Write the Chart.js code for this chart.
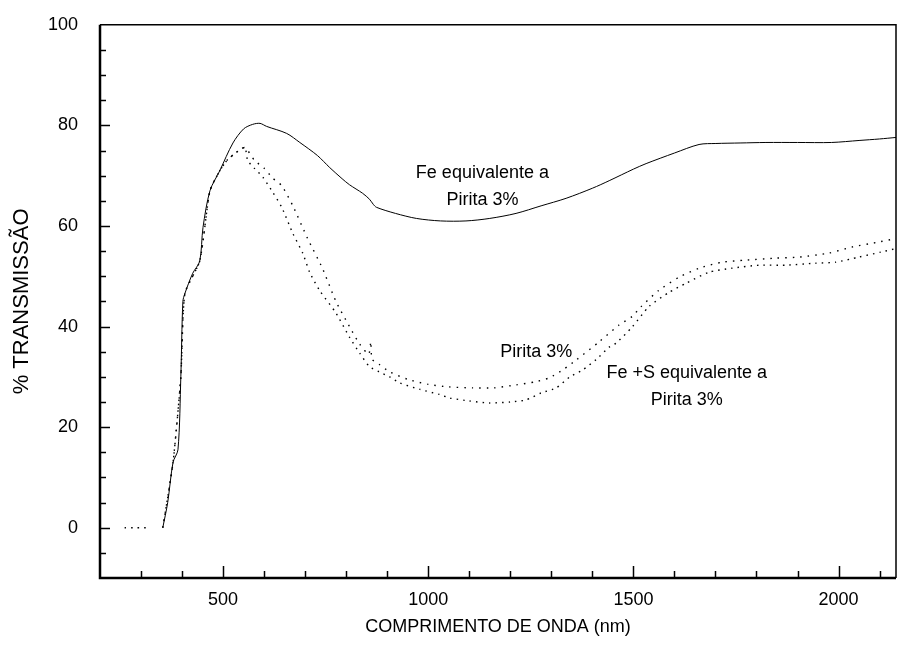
<!DOCTYPE html>
<html>
<head>
<meta charset="utf-8">
<script src="https://cdn.jsdelivr.net/npm/chart.js@4.4.1/dist/chart.umd.min.js"></script>
<style>
  html, body { margin: 0; padding: 0; background: #fff; }
  #wrap { width: 898px; height: 646px; }
</style>
</head>
<body>
<div id="wrap"><canvas id="grafico"></canvas></div>
<script>
// comprimento de onda (nm) e % transmissao
var feNm = [353,365,378,390,397,402,407,426,443,451,468,492,524,550,572,590,606,655,687,730,760,790,808,840,857,866,874,920,971,1030,1092,1150,1214,1275,1336,1400,1441,1500,1531,1600,1660,1701,1760,1823,1900,1983,2050,2100,2140];
var feT  = [0,5,13,15.5,30,45,46.6,50.6,53,59.7,67,71,76.5,79.3,80.2,80.4,79.8,78.4,76.6,74,71.6,69.4,68.2,66.5,65.3,64.3,63.7,62.5,61.5,61,61,61.5,62.5,64,65.5,67.5,69,71.3,72.4,74.5,76.2,76.4,76.5,76.6,76.6,76.6,77,77.3,77.6];

var pirNm = [353,378,397,407,443,468,492,509,530,553,577,600,621,643,670,706,742,775,808,833,855,860,863,880,906,950,1000,1050,1108,1160,1214,1260,1295,1330,1360,1417,1465,1497,1518,1562,1611,1660,1716,1774,1847,1903,1976,2032,2091,2140];
var pirT  = [0,13,30,46.6,53,67,71,73,74.5,75.6,73,71.5,69.5,68,64,57.5,51.6,45,40,36.5,34.5,37,33.5,32.5,31,29.5,28.5,28,27.8,27.8,28.4,29,29.8,31.5,33.3,37,40.3,42,43.9,47.2,49.8,51.6,52.8,53.2,53.6,53.8,54.6,55.8,56.7,57.5];

var fesNm = [260,290,315,335,353,378,397,407,443,468,492,509,530,553,560,577,597,621,643,670,694,711,735,775,808,833,857,880,906,930,980,1027,1052,1100,1149,1200,1238,1275,1312,1345,1375,1410,1441,1458,1497,1538,1587,1628,1684,1740,1806,1871,1944,1993,2049,2103,2140];
var fesT  = [0,0,0,null,0,13,30,46.6,53,67,71,73,74.5,75.6,73,71.4,69.7,66.7,63.7,58.5,54.6,50.8,47.2,42.7,37.9,34.7,32,31,30,28.8,27.5,26.5,25.8,25.2,24.8,25,25.4,26.8,27.8,30,31.3,33.5,35.9,36.7,39.9,44,46.8,48.6,50.8,51.6,52.2,52.2,52.6,52.8,53.8,54.8,55.5];

var xTicks = [500, 1000, 1500, 2000];
var yTicks = [0, 20, 40, 60, 80, 100];

var rotulos = [
  { nm: 1132, t: 70.6, linhas: ['Fe equivalente a', 'Pirita 3%'] },
  { nm: 1263, t: 35.0, linhas: ['Pirita 3%'] },
  { nm: 1630, t: 30.8, linhas: ['Fe +S equivalente a', 'Pirita 3%'] }
];

var fonte = "'Liberation Sans', Arial, sans-serif";

function pares(xs, ys) {
  return xs.map(function (x, i) { return { x: x, y: ys[i] }; });
}

// marcas de escala para dentro + moldura + textos
var moldura = {
  id: 'moldura',
  afterDatasetsDraw: function (chart) {
    var ctx = chart.ctx;
    var a = chart.chartArea;
    var x = chart.scales.x, y = chart.scales.y;
    ctx.save();
    ctx.strokeStyle = '#000';
    ctx.lineWidth = 1.5;
    for (var v = 300; v <= 2100; v += 100) {
      var px = Math.round(x.getPixelForValue(v)) + 0.5;
      var len = v % 500 === 0 ? 12 : 7;
      ctx.beginPath(); ctx.moveTo(px, a.bottom); ctx.lineTo(px, a.bottom - len); ctx.stroke();
    }
    for (var w = -5; w < 100; w += 5) {
      var py = Math.round(y.getPixelForValue(w)) + 0.5;
      var l = w % 20 === 0 ? 10 : 6;
      ctx.beginPath(); ctx.moveTo(a.left, py); ctx.lineTo(a.left + l, py); ctx.stroke();
    }
    ctx.lineWidth = 1.5;
    ctx.beginPath(); ctx.moveTo(a.left, a.top); ctx.lineTo(a.right, a.top); ctx.lineTo(a.right, a.bottom); ctx.stroke();
    ctx.lineWidth = 2.5;
    ctx.beginPath(); ctx.moveTo(a.left, a.top); ctx.lineTo(a.left, a.bottom); ctx.lineTo(a.right, a.bottom); ctx.stroke();

    ctx.fillStyle = '#000';
    ctx.font = '18px ' + fonte;
    ctx.textAlign = 'center';
    ctx.textBaseline = 'middle';
    rotulos.forEach(function (r) {
      var cx = x.getPixelForValue(r.nm);
      var cy = y.getPixelForValue(r.t);
      r.linhas.forEach(function (txt, i) {
        ctx.fillText(txt, cx, cy + i * 27);
      });
    });
    ctx.restore();
  }
};

var ctx = document.getElementById('grafico').getContext('2d');
new Chart(ctx, {
  type: 'line',
  data: {
    datasets: [{
      label: 'Fe equivalente a Pirita 3%',
      data: pares(feNm, feT),
      borderColor: '#000',
      borderWidth: 1,
      pointRadius: 0,
      tension: 0.3
    }, {
      label: 'Pirita 3%',
      data: pares(pirNm, pirT),
      borderColor: '#000',
      borderWidth: 1.4,
      borderDash: [1.5, 6],
      pointRadius: 0,
      tension: 0.2
    }, {
      label: 'Fe +S equivalente a Pirita 3%',
      data: pares(fesNm, fesT),
      borderColor: '#000',
      borderWidth: 1.4,
      borderDash: [1.5, 5],
      pointRadius: 0,
      tension: 0.2
    }]
  },
  options: {
    responsive: true,
    maintainAspectRatio: false,
    animation: false,
    layout: { padding: { top: 24, right: 2, left: 0, bottom: 0 } },
    plugins: { legend: { display: false }, tooltip: { enabled: false } },
    scales: {
      x: {
        type: 'linear',
        min: 200,
        max: 2140,
        afterBuildTicks: function (s) { s.ticks = xTicks.map(function (v) { return { value: v }; }); },
        afterFit: function (s) { s.height = 68; },
        grid: { display: false },
        border: { display: false },
        ticks: {
          color: '#000',
          padding: 3,
          font: { family: fonte, size: 18 },
          callback: function (v) { return String(v); }
        },
        title: {
          display: true,
          text: 'COMPRIMENTO DE ONDA (nm)',
          color: '#000',
          font: { family: fonte, size: 18 },
          padding: { top: 0, bottom: 8 }
        }
      },
      y: {
        min: -10,
        max: 100,
        afterBuildTicks: function (s) { s.ticks = yTicks.map(function (v) { return { value: v }; }); },
        afterFit: function (s) { s.width = 100; },
        grid: { display: false },
        border: { display: false },
        ticks: { color: '#000', padding: 14, font: { family: fonte, size: 18 } },
        title: {
          display: true,
          text: '% TRANSMISSÃO',
          color: '#000',
          font: { family: fonte, size: 22 },
          padding: { top: 9, bottom: 0 }
        }
      }
    }
  },
  plugins: [moldura]
});
</script>
</body>
</html>
